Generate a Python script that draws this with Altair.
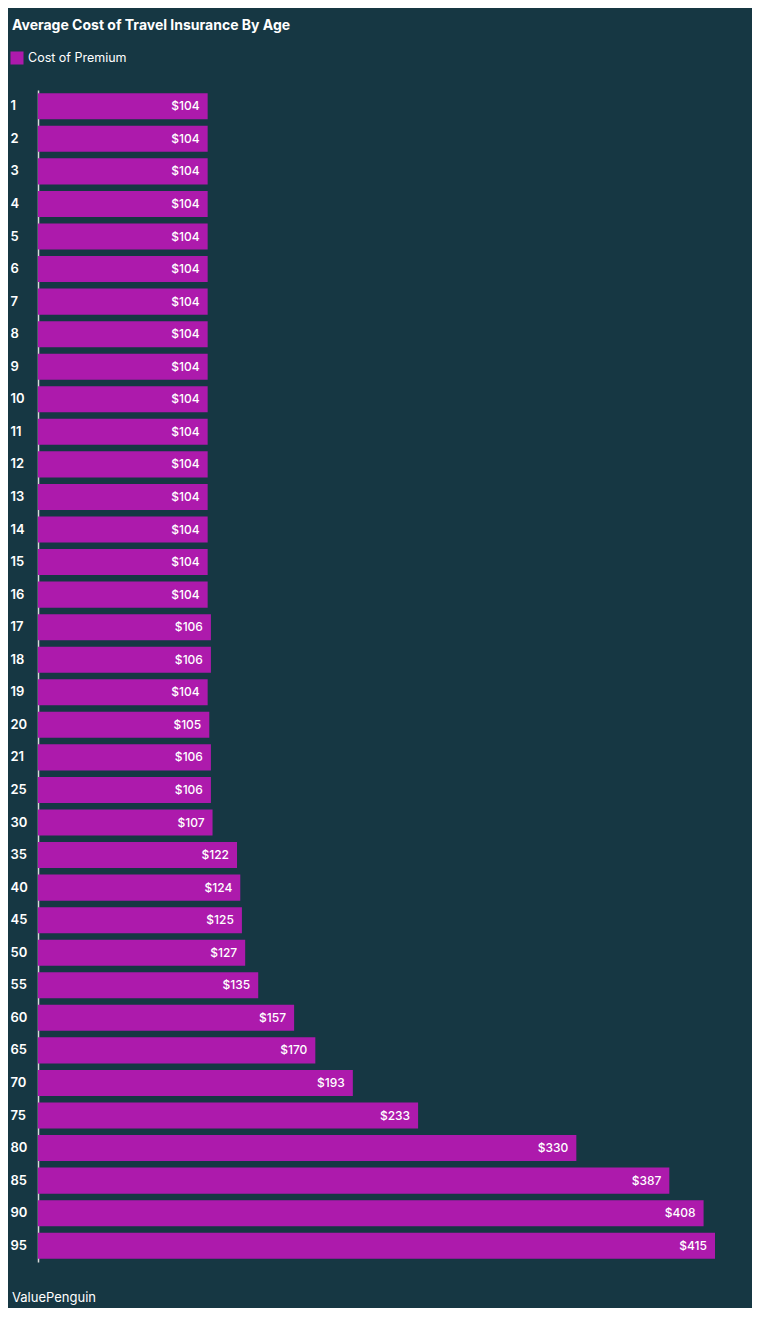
import altair as alt
import pandas as pd

ages = [str(a) for a in range(1, 22)] + ["25", "30", "35", "40", "45", "50", "55", "60", "65", "70", "75", "80", "85", "90", "95"]
premiums = [104] * 16 + [106, 106, 104, 105, 106, 106, 107, 122, 124, 125, 127, 135, 157, 170, 193, 233, 330, 387, 408, 415]
series_name = "Cost of Premium"

df = pd.DataFrame({"age": ages, "premium": premiums, "series": series_name})
df["label"] = ["$" + str(v) for v in premiums]

BG = "#163743"
BAR = "#AD1AAC"
FONT = "Inter"
W = 677
H = 1172

base = alt.Chart(df)

bars = base.mark_bar(color=BAR).encode(
    y=alt.Y("age:N", sort=ages, title=None,
            scale=alt.Scale(paddingInner=0.2, paddingOuter=0.1),
            axis=alt.Axis(labelAlign="left", labelPadding=28, ticks=False,
                          domainColor="#d8d8d8", domainWidth=1.5,
                          labelColor="#ffffff", labelFont=FONT, labelFontSize=13,
                          labelFontWeight=600)),
    x=alt.X("premium:Q", title=None, scale=alt.Scale(domain=[0, 415], nice=False),
            axis=None),
    color=alt.Color("series:N", title=None,
                    scale=alt.Scale(domain=[series_name], range=[BAR]),
                    legend=alt.Legend(orient="none", legendX=-28, legendY=-39,
                                      symbolType="square", symbolSize=170,
                                      symbolOpacity=1, symbolStrokeWidth=0,
                                      labelColor="#ffffff", labelFont=FONT,
                                      labelFontSize=12.5)),
)

labels = base.mark_text(align="right", baseline="middle", dx=-8, color="#ffffff",
                        font=FONT, fontSize=12, fontWeight=500).encode(
    y=alt.Y("age:N", sort=ages),
    x=alt.X("premium:Q"),
    text="label:N",
)

footer_df = pd.DataFrame({"t": ["ValuePenguin"]})
footer = alt.Chart(footer_df).mark_text(align="left", baseline="middle", color="#ffffff",
                                        font=FONT, fontSize=13).encode(
    x=alt.value(-26), y=alt.value(H + 36), text="t:N")

chart = alt.layer(bars, labels, footer).properties(
    width=W, height=H,
    background=BG,
    padding={"left": 30, "top": 82, "right": 37, "bottom": 46},
    autosize=alt.AutoSizeParams(type="none"),
    title=alt.TitleParams("Average Cost of Travel Insurance By Age", anchor="start",
                          frame="group", dx=-26, offset=18, color="#ffffff",
                          font=FONT, fontSize=14, fontWeight="bold"),
).configure_view(stroke=None)

chart.save("out.html", embed_options={"renderer": "svg", "actions": False})
